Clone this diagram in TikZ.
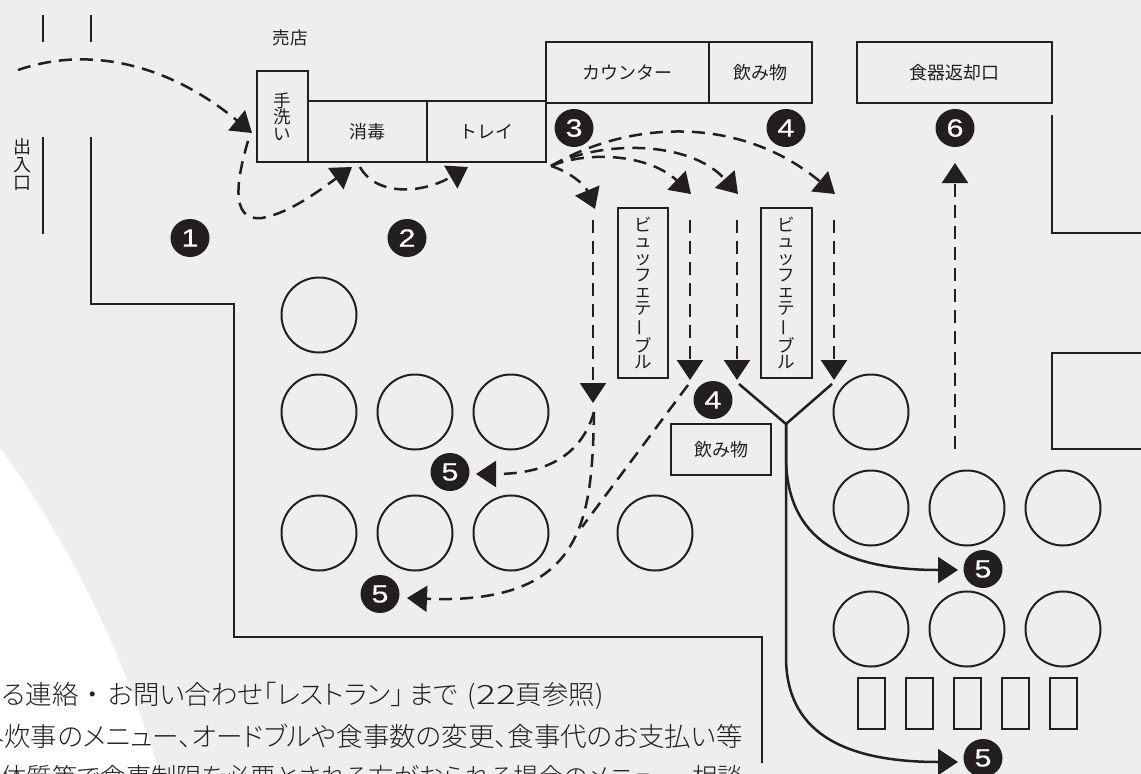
\documentclass[tikz,border=0pt]{standalone}
\usepackage{fontspec}
\usetikzlibrary{arrows.meta}
\setmainfont{Noto Sans CJK JP}
\newfontfamily\digitfont[FakeBold=0.4]{Liberation Sans}
\newfontfamily\bodyfont[RawFeature={+palt}]{Noto Sans CJK JP Light}
\definecolor{ink}{HTML}{231F20}
\definecolor{floor}{HTML}{EEEEEE}
\newcommand{\vbar}{\rotatebox[origin=c]{90}{ー}}
\tikzset{
  box/.style={draw=ink,line width=2.5pt,inner sep=0pt,text=ink,font=\fontsize{18}{20}\selectfont,align=center},
  stackbox/.style={box,font=\fontsize{17.5}{16.7}\selectfont},
  seat/.style={draw=ink,line width=2pt,circle,minimum size=75pt,inner sep=0pt},
  chair/.style={draw=ink,line width=2pt,minimum width=27pt,minimum height=51pt,inner sep=0pt},
  wall/.style={draw=ink,line width=2pt},
  flow/.style={draw=ink,line width=2.5pt,-{Triangle[length=20pt,width=26pt]}},
  dflow/.style={flow,dash pattern=on 13pt off 8pt},
  dline/.style={draw=ink,line width=2.5pt,dash pattern=on 13pt off 8pt},
  plain/.style={text=ink,inner sep=0pt},
  body/.style={text=ink,inner sep=0pt,anchor=east,font=\bodyfont\fontsize{26.5}{27}\selectfont}
}
\newcommand{\badgeat}[3]{%
  \fill[ink] (#2) ellipse [x radius=19.5pt,y radius=19pt];
  \node[text=white,inner sep=0pt,font=\digitfont\fontsize{25}{25}\selectfont] (#1) at (#2) {\scalebox{1.22}[1]{#3}};}
\begin{document}
\begin{tikzpicture}[x=1pt,y=-1pt]
\useasboundingbox (0,0) rectangle (1141,774);
\clip (0,0) rectangle (1141,774);
\fill[floor] (0,0) rectangle (1141,774);
\fill[white] (0,448) .. controls (60,530) and (120,640) .. (160,774) -- (0,774) -- cycle;

% walls
\coordinate (w1a) at (43,15); \coordinate (w1b) at (43,42);
\coordinate (w2a) at (91,15); \coordinate (w2b) at (91,42);
\draw[wall] (w1a) -- (w1b);
\draw[wall] (w2a) -- (w2b);
\draw[wall] (43,137) -- (43,234);
\draw[wall] (91,137) -- (91,304) -- (234,304) -- (234,637) -- (762,637) -- (762,763);
\draw[wall] (1052,115) -- (1052,233) -- (1141,233);
\draw[wall] (1141,353) -- (1052,353) -- (1052,449) -- (1141,449);

% labels
\node[plain,font=\fontsize{17.5}{19}\selectfont] (shop) at (290,38) {売店};
\node[plain,align=center,font=\fontsize{18}{18}\selectfont] (door) at (22,164.5) {出\\入\\口};

% counters
\node[stackbox,minimum width=51pt,minimum height=91pt] (hand) at (282.5,116.5) {手\\洗\\い};
\node[box,minimum width=119pt,minimum height=61pt] (dis) at (367.5,131.5) {消毒};
\node[box,minimum width=119pt,minimum height=61pt] (tray) at (486.5,131.5) {トレイ};
\node[box,minimum width=163pt,minimum height=61pt] (counter) at (627.5,72.5) {カウンター};
\node[box,minimum width=103pt,minimum height=61pt] (drink) at (760.5,72.5) {飲み物};
\node[box,minimum width=195pt,minimum height=61pt] (ret) at (954.5,72.5) {食器返却口};
\node[stackbox,minimum width=50pt,minimum height=170pt] (bufa) at (643,293) {ビ\\ュ\\ッ\\フ\\ェ\\テ\\\vbar\\ブ\\ル};
\node[stackbox,minimum width=51pt,minimum height=170pt] (bufb) at (786.5,293) {ビ\\ュ\\ッ\\フ\\ェ\\テ\\\vbar\\ブ\\ル};
\node[box,minimum width=100pt,minimum height=51pt] (drinkb) at (721,449.5) {飲み物};

% tables
\foreach \n/\p in {a/{319,315},b/{319,412},c/{415,412},d/{511,412},e/{319,533},f/{415,533},g/{511,533},h/{655,533},i/{871,412},j/{871,508},k/{967,508},l/{1063,508},m/{871,629},n/{967,629},o/{1063,629}}{
  \node[seat] (t\n) at (\p) {};
}
\foreach \n/\x in {a/871,b/919,c/967,d/1015.5,e/1063}{
  \node[chair] (c\n) at (\x,703.5) {};
}

% badges
\badgeat{n1}{190,238}{1}
\badgeat{n2}{407,238}{2}
\badgeat{n3}{574,128}{3}
\badgeat{n4}{786,128}{4}
\badgeat{n6}{955,128}{6}
\badgeat{n4b}{713,400}{4}
\badgeat{n5a}{450,472}{5}
\badgeat{n5b}{380,594}{5}
\badgeat{n5c}{983,569}{5}
\badgeat{n5d}{983,758}{5}

% route points
\coordinate (in) at (18,70);
\coordinate (ha) at (252,133);
\coordinate (hb) at (248,141);
\coordinate (da) at (352,167);
\coordinate (db) at (360,167);
\coordinate (ta) at (468,167);
\coordinate (fan) at (551,166);
\coordinate (fa) at (595,209);
\coordinate (fb) at (691,194);
\coordinate (fc) at (738,194);
\coordinate (fd) at (835,194);
\coordinate (va) at (593,220); \coordinate (vat) at (593,403);
\coordinate (vb) at (690,220); \coordinate (vbt) at (690,380);
\coordinate (vc) at (737,220); \coordinate (vct) at (737,380);
\coordinate (vd) at (834,220); \coordinate (vdt) at (834,380);
\coordinate (up) at (955,449); \coordinate (upt) at (955,163);
\coordinate (sa) at (594,412);
\coordinate (sb) at (688,385);
\coordinate (sbe) at (582,527);
\coordinate (ya) at (739,384);
\coordinate (yb) at (832,384);
\coordinate (yc) at (786,424);

% dashed routes
\draw[dflow] (in) .. controls (90,45) and (170,65) .. (ha);
\draw[dflow] (hb) .. controls (238,175) and (228,222) .. (262,218) .. controls (290,213) and (320,190) .. (da);
\draw[dflow] (db) .. controls (375,195) and (420,195) .. (ta);
\draw[dflow] (fan) .. controls (570,172) and (585,185) .. (fa);
\draw[dflow] (fan) .. controls (590,150) and (650,155) .. (fb);
\draw[dflow] (fan) .. controls (600,140) and (690,140) .. (fc);
\draw[dflow] (fan) .. controls (630,120) and (740,115) .. (fd);
\draw[dflow] (va) -- (vat);
\draw[dflow] (vb) -- (vbt);
\draw[dflow] (vc) -- (vct);
\draw[dflow] (vd) -- (vdt);
\draw[dflow] (up) -- (upt);
\draw[dflow] (sa) .. controls (580,460) and (540,474) .. (476,474);
\draw[dflow] (sa) .. controls (592,520) and (585,605) .. (407,598);
\draw[dline] (sb) -- (sbe);

% solid routes
\draw[draw=ink,line width=2.5pt] (ya) -- (yc) -- (yb);
\draw[flow] (yc) -- (786,456) .. controls (786,530) and (830,570) .. (958,570);
\draw[flow] (yc) -- (786,657) .. controls (786,730) and (840,762) .. (958,762);

% text
\node[body] (ta1) at (604,696) {る連絡\hspace{8pt}・\hspace{8pt}お問い合わせ「レストラン」\hspace{5pt}まで\hspace{10pt}(\scalebox{1.4}[1]{22}頁参照)};
\node[body] (ta2) at (743,736) {外炊事のメニュー、オードブルや食事数の変更、食事代のお支払い等};
\node[body,font=\bodyfont\fontsize{25.3}{27}\selectfont] (ta3) at (743,777) {体質等で食事制限を必要とされる方がおられる場合のメニュー、相談};
\end{tikzpicture}
\end{document}
